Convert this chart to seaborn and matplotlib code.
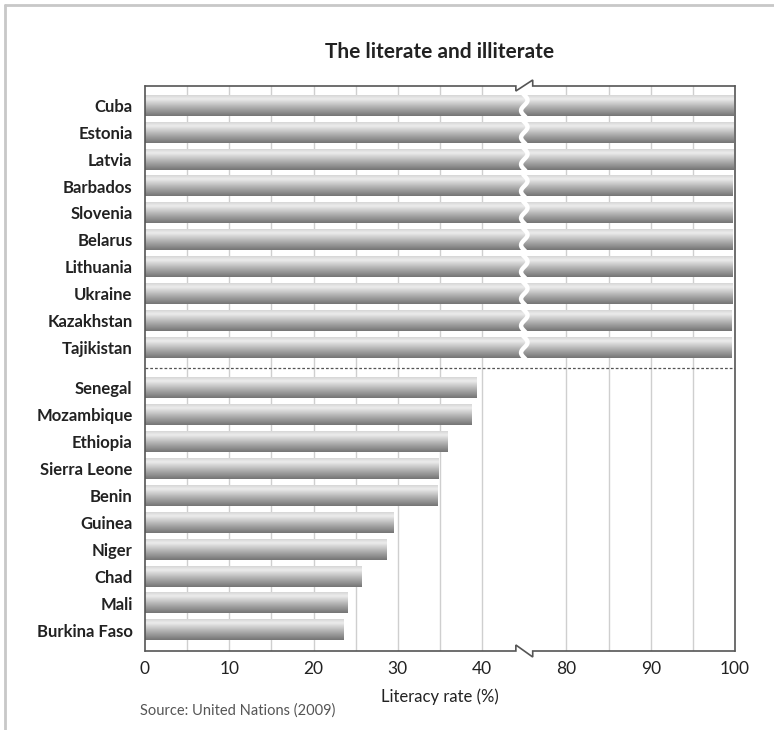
import numpy as np
import pandas as pd
import matplotlib
matplotlib.use("Agg")
import matplotlib.pyplot as plt
import seaborn as sns
from matplotlib.colors import LinearSegmentedColormap
from matplotlib.lines import Line2D

# ---------------- data ----------------
top_countries = ["Cuba", "Estonia", "Latvia", "Barbados", "Slovenia", "Belarus",
                 "Lithuania", "Ukraine", "Kazakhstan", "Tajikistan"]
top_rates = [99.8, 99.8, 99.8, 99.7, 99.7, 99.7, 99.7, 99.7, 99.6, 99.6]
bottom_countries = ["Senegal", "Mozambique", "Ethiopia", "Sierra Leone", "Benin",
                    "Guinea", "Niger", "Chad", "Mali", "Burkina Faso"]
bottom_rates = [39.3, 38.7, 35.9, 34.8, 34.7, 29.5, 28.7, 25.7, 24.0, 23.6]
x_tick_values = [0, 10, 20, 30, 40, 80, 90, 100]
grid_values = [5, 10, 15, 20, 25, 30, 35, 40, 80, 85, 90, 95]
title_text = "The literate and illiterate"
xlabel_text = "Literacy rate (%)"
source_text = "Source: United Nations (2009)"

# broken axis: 45..75 removed
BREAK_LO, BREAK_HI = 45.0, 75.0
GAP = BREAK_HI - BREAK_LO


def fwd(v):
    v = np.asarray(v, dtype=float)
    return np.where(v > BREAK_LO, v - GAP, v)


top_pos = list(np.arange(10, dtype=float))
bottom_pos = list(np.arange(10, dtype=float) + 10.5)

df = pd.DataFrame({
    "country": top_countries + bottom_countries,
    "rate": top_rates + bottom_rates,
    "pos": top_pos + bottom_pos,
})
df["xt"] = fwd(df["rate"])

sns.set_theme(style="white")
plt.rcParams["font.family"] = ["Lato", "DejaVu Sans"]

W, H = 774, 730
fig = plt.figure(figsize=(W / 100, H / 100), dpi=100)
L, R, T, B = 145, 735, 86, 651
ax = fig.add_axes([L / W, 1 - B / H, (R - L) / W, (B - T) / H])

XMAX = float(fwd(100))
YTOP, YBOT = -0.72, 20.28

# grid
for g in fwd(grid_values):
    ax.axvline(g, color="#cfcfcf", lw=1.0, zorder=0)

sns.barplot(data=df, x="xt", y="pos", orient="h", native_scale=True,
            width=0.77, color="#999999", ax=ax, zorder=2)

cmap = LinearSegmentedColormap.from_list(
    "bar", [(0.0, "#d6d6d6"), (0.18, "#ececec"), (0.55, "#b4b4b4"), (1.0, "#747474")])
grad = np.linspace(0, 1, 128).reshape(-1, 1)
for p in list(ax.patches):
    x0, y0 = p.get_x(), p.get_y()
    w, h = p.get_width(), p.get_height()
    ya, yb = min(y0, y0 + h), max(y0, y0 + h)
    p.set_facecolor("none")
    p.set_edgecolor("none")
    ax.imshow(grad, cmap=cmap, extent=(x0, x0 + w, yb, ya), origin="upper",
              aspect="auto", interpolation="bilinear", zorder=2)

# white wavy break through the long bars
for i, p in enumerate(ax.patches):
    y0, h = p.get_y(), p.get_height()
    ya, yb = min(y0, y0 + h), max(y0, y0 + h)
    if p.get_width() > BREAK_LO:
        tt = np.linspace(-0.08, 1.08, 80)
        yy = ya + tt * (yb - ya)
        xx = BREAK_LO + 0.38 * np.sin(2 * np.pi * tt)
        ax.plot(xx, yy, color="white", lw=3.2, zorder=3, solid_capstyle="butt",
                solid_joinstyle="round", antialiased=True)

# separator
ax.axhline(9.75, color="#555555", ls=(0, (2.2, 1.6)), lw=0.9, zorder=3)

ax.set_xlim(0, XMAX)
ax.set_ylim(YBOT, YTOP)

# axes frame with break marks
for s in ["top", "bottom"]:
    ax.spines[s].set_visible(False)
for s in ["left", "right"]:
    ax.spines[s].set_color("#555555")
    ax.spines[s].set_linewidth(1.2)
ry = (B - T) / (YBOT - YTOP)  # px per row
z1, z2 = 44.0, 46.0
top_line = [(0, YTOP), (z1, YTOP), (z1, YTOP + 5 / ry), (z2, YTOP - 6 / ry), (z2, YTOP), (XMAX, YTOP)]
bot_line = [(0, YBOT), (z1, YBOT), (z1, YBOT - 6 / ry), (z2, YBOT + 6 / ry), (z2, YBOT), (XMAX, YBOT)]
for ln in (top_line, bot_line):
    xs, ys = zip(*ln)
    ax.add_line(Line2D(xs, ys, color="#555555", lw=1.2, clip_on=False, zorder=5,
                       solid_joinstyle="miter"))

ax.set_xticks(fwd(x_tick_values))
ax.set_xticklabels([str(v) for v in x_tick_values], fontsize=12.5, color="#222222")
ax.set_yticks(df["pos"])
ax.set_yticklabels(df["country"], fontsize=12, fontweight="bold", color="#222222")
ax.tick_params(axis="both", length=0)
ax.tick_params(axis="x", pad=7)
ax.tick_params(axis="y", pad=9)
ax.set_xlabel("")
ax.set_ylabel("")
ax.grid(False)

fig.text((L + R) / 2 / W, 1 - 52 / H, title_text, ha="center", va="center",
         fontsize=15, fontweight="bold", color="#222222")
fig.text((L + R) / 2 / W, 1 - 697 / H, xlabel_text, ha="center", va="center",
         fontsize=12, color="#222222")
fig.text(140 / W, 1 - 711 / H, source_text, ha="left", va="center",
         fontsize=10.5, color="#555555")

# outer frame (top and left edges)
fig.add_artist(Line2D([5 / W, 1], [1 - 5 / H, 1 - 5 / H], transform=fig.transFigure,
                      color="#c8c8c8", lw=2))
fig.add_artist(Line2D([5 / W, 5 / W], [0, 1 - 5 / H], transform=fig.transFigure,
                      color="#c8c8c8", lw=2))

fig.savefig("out.png", dpi=100, facecolor="white")
